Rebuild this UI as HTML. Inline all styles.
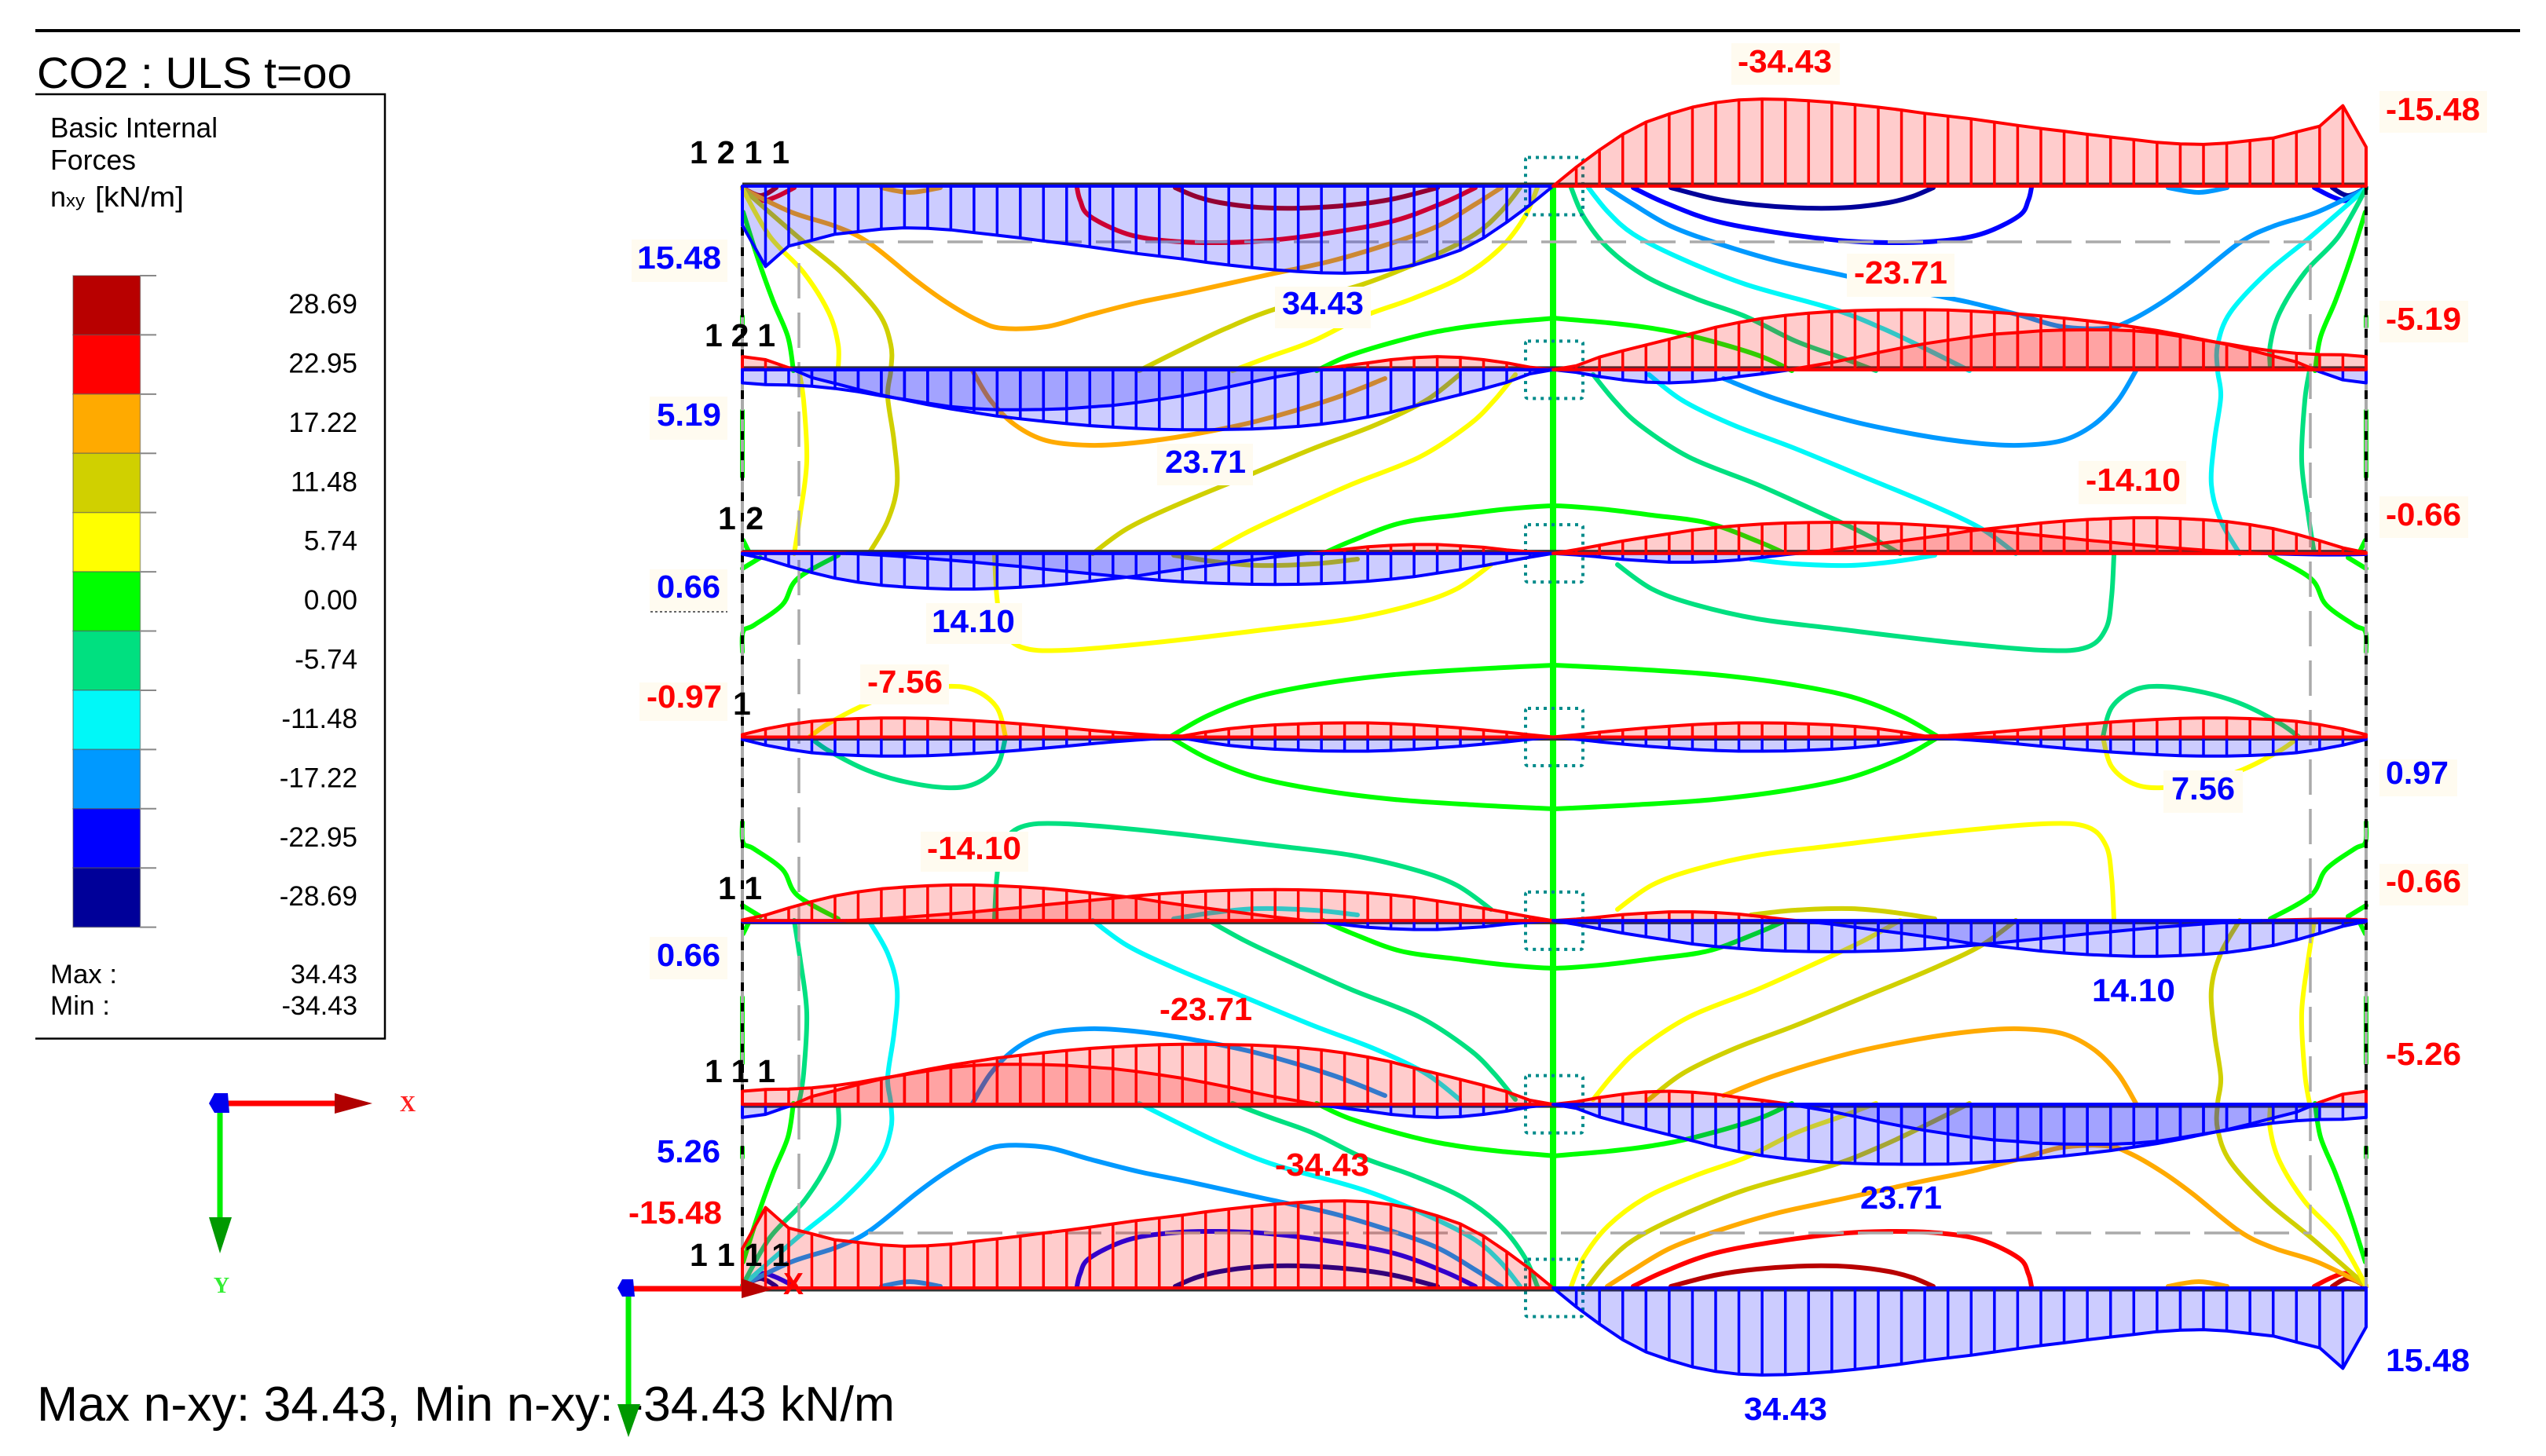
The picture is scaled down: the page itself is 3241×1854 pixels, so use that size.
<!DOCTYPE html>
<html lang="en">
<head>
<meta charset="utf-8">
<title>CO2 : ULS t=oo - Basic Internal Forces nxy</title>
<style>
html,body{margin:0;padding:0;background:#fff;}
svg{display:block;font-family:"Liberation Sans",sans-serif;}
.lb{font-weight:700;font-size:41px;}
.blue{fill:#0000ff;}
.red{fill:#ff0000;}
.tag{font-weight:700;font-size:41px;fill:#000;}
.box{fill:#fffbf0;}
</style>
</head>
<body>
<svg id="chart" xmlns="http://www.w3.org/2000/svg" width="3241" height="1854" viewBox="0 0 3241 1854">
<rect x="0" y="0" width="3241" height="1854" fill="#fff"/>
<rect x="45" y="37" width="3163" height="4" fill="#000"/>
<text x="47" y="112" font-size="56" textLength="401" lengthAdjust="spacingAndGlyphs">CO2 : ULS t=oo</text>

<g>
<path d="M45 120H490V1322.5H45" fill="none" stroke="#000" stroke-width="2.5"/>
<text x="64" y="175" font-size="36" textLength="213" lengthAdjust="spacingAndGlyphs">Basic Internal</text>
<text x="64" y="216" font-size="36" textLength="109" lengthAdjust="spacingAndGlyphs">Forces</text>
<text x="64" y="263" font-size="36">n</text>
<text x="84" y="263" font-size="22" textLength="24" lengthAdjust="spacingAndGlyphs">xy</text>
<text x="121" y="263" font-size="36" textLength="113" lengthAdjust="spacingAndGlyphs">[kN/m]</text>
<g id="legend-scale"></g>
<text x="64" y="1252" font-size="34" textLength="85" lengthAdjust="spacingAndGlyphs">Max :</text>
<text x="64" y="1292" font-size="34" textLength="76" lengthAdjust="spacingAndGlyphs">Min :</text>
<text x="455" y="1252" font-size="34" text-anchor="end">34.43</text>
<text x="455" y="1292" font-size="34" text-anchor="end">-34.43</text>
</g>

<g>
<path d="M280 1405H430" stroke="#ff0000" stroke-width="7"/>
<path d="M426 1392L474 1405L426 1418Z" fill="#b00000"/>
<path d="M280 1405V1552" stroke="#00ee00" stroke-width="7"/>
<path d="M266 1550H295L280 1596Z" fill="#009900"/>
<path d="M266 1405L273 1392H290L292 1417H273Z" fill="#0000ee"/>
<text x="519" y="1415" font-size="28" font-weight="700" text-anchor="middle" fill="#ff2020" style="font-family:'Liberation Serif',serif">X</text>
<text x="282" y="1646" font-size="28" font-weight="700" text-anchor="middle" fill="#33ee33" style="font-family:'Liberation Serif',serif">Y</text>
</g>

<g id="isolines"></g>
<path d="M1977 237V1640" stroke="#00ff00" stroke-width="8"/>
<rect x="1017" y="308" width="1924" height="1262" fill="none" stroke="#aaa" stroke-width="3.5" stroke-dasharray="45 18"/>
<g>
<path d="M945 237V1640" stroke="#aaa" stroke-width="4"/>
<path d="M945 237V1640" stroke="#000" stroke-width="4" stroke-dasharray="11 15"/>
<path d="M3012 237V1640" stroke="#aaa" stroke-width="4"/>
<path d="M3012 237V1640" stroke="#000" stroke-width="4" stroke-dasharray="11 15"/>
</g>
<g id="joints"></g>
<g id="beams"></g>

<g>
<rect class="box" x="804" y="305" width="122" height="54"/>
<text class="lb blue" x="811" y="342" textLength="107" lengthAdjust="spacingAndGlyphs">15.48</text>
<rect class="box" x="827" y="505" width="99" height="55"/>
<text class="lb blue" x="836" y="542" textLength="82" lengthAdjust="spacingAndGlyphs">5.19</text>
<rect class="box" x="827" y="725" width="99" height="53"/>
<text class="lb blue" x="836" y="761" textLength="81" lengthAdjust="spacingAndGlyphs">0.66</text>
<path d="M828 779H926" stroke="#333" stroke-width="1.5" stroke-dasharray="3 3"/>
<rect class="box" x="1623" y="365" width="122" height="53"/>
<text class="lb blue" x="1632" y="400" textLength="104" lengthAdjust="spacingAndGlyphs">34.43</text>
<rect class="box" x="1473" y="565" width="122" height="53"/>
<text class="lb blue" x="1483" y="602" textLength="103" lengthAdjust="spacingAndGlyphs">23.71</text>
<rect class="box" x="1179" y="768" width="122" height="52"/>
<text class="lb blue" x="1186" y="805" textLength="106" lengthAdjust="spacingAndGlyphs">14.10</text>
<rect class="box" x="2204" y="55" width="138" height="53"/>
<text class="lb red" x="2212" y="92" textLength="120" lengthAdjust="spacingAndGlyphs">-34.43</text>
<rect class="box" x="3029" y="116" width="137" height="53"/>
<text class="lb red" x="3037" y="153" textLength="120" lengthAdjust="spacingAndGlyphs">-15.48</text>
<rect class="box" x="2351" y="323" width="137" height="55"/>
<text class="lb red" x="2360" y="361" textLength="119" lengthAdjust="spacingAndGlyphs">-23.71</text>
<rect class="box" x="3029" y="383" width="113" height="53"/>
<text class="lb red" x="3037" y="420" textLength="96" lengthAdjust="spacingAndGlyphs">-5.19</text>
<rect class="box" x="2646" y="587" width="137" height="55"/>
<text class="lb red" x="2655" y="625" textLength="121" lengthAdjust="spacingAndGlyphs">-14.10</text>
<rect class="box" x="3029" y="632" width="113" height="53"/>
<text class="lb red" x="3037" y="669" textLength="96" lengthAdjust="spacingAndGlyphs">-0.66</text>
<rect class="box" x="814" y="869" width="112" height="49"/>
<text class="lb red" x="823" y="901" textLength="96" lengthAdjust="spacingAndGlyphs">-0.97</text>
<rect class="box" x="1095" y="846" width="113" height="51"/>
<text class="lb red" x="1104" y="882" textLength="96" lengthAdjust="spacingAndGlyphs">-7.56</text>
<rect class="box" x="1172" y="1059" width="137" height="51"/>
<text class="lb red" x="1180" y="1094" textLength="120" lengthAdjust="spacingAndGlyphs">-14.10</text>
<rect class="box" x="827" y="1193" width="99" height="54"/>
<text class="lb blue" x="836" y="1230" textLength="81" lengthAdjust="spacingAndGlyphs">0.66</text>
<text class="lb red" x="1476" y="1299" textLength="118" lengthAdjust="spacingAndGlyphs">-23.71</text>
<text class="lb blue" x="836" y="1480" textLength="81" lengthAdjust="spacingAndGlyphs">5.26</text>
<text class="lb red" x="1623" y="1497" textLength="120" lengthAdjust="spacingAndGlyphs">-34.43</text>
<text class="lb red" x="800" y="1558" textLength="119" lengthAdjust="spacingAndGlyphs">-15.48</text>
<rect class="box" x="3029" y="967" width="99" height="47"/>
<text class="lb blue" x="3037" y="998" textLength="80" lengthAdjust="spacingAndGlyphs">0.97</text>
<rect class="box" x="2754" y="981" width="101" height="54"/>
<text class="lb blue" x="2764" y="1018" textLength="81" lengthAdjust="spacingAndGlyphs">7.56</text>
<rect class="box" x="3029" y="1100" width="113" height="53"/>
<text class="lb red" x="3037" y="1136" textLength="96" lengthAdjust="spacingAndGlyphs">-0.66</text>
<text class="lb blue" x="2663" y="1275" textLength="106" lengthAdjust="spacingAndGlyphs">14.10</text>
<text class="lb red" x="3037" y="1356" textLength="96" lengthAdjust="spacingAndGlyphs">-5.26</text>
<text class="lb blue" x="2368" y="1539" textLength="104" lengthAdjust="spacingAndGlyphs">23.71</text>
<text class="lb blue" x="3037" y="1746" textLength="107" lengthAdjust="spacingAndGlyphs">15.48</text>
<text class="lb blue" x="2220" y="1808" textLength="106" lengthAdjust="spacingAndGlyphs">34.43</text>
</g>

<g>
<text class="tag" x="878" y="208" textLength="127" xml:space="preserve">1 2 1 1</text>
<text class="tag" x="897" y="441" textLength="90" xml:space="preserve">1 2 1</text>
<text class="tag" x="914" y="674" textLength="58" xml:space="preserve">1 2</text>
<text class="tag" x="933" y="910">1</text>
<text class="tag" x="914" y="1145" textLength="56" xml:space="preserve">1 1</text>
<text class="tag" x="897" y="1378" textLength="90" xml:space="preserve">1 1 1</text>
<text class="tag" x="878" y="1612" textLength="127" xml:space="preserve">1 1 1 1</text>
</g>

<g>
<path d="M800 1641H950" stroke="#ff0000" stroke-width="7"/>
<path d="M944 1628L983 1642L944 1653Z" fill="#b80000"/>
<text x="997" y="1648" font-size="39" font-weight="700" fill="#ff0000" textLength="26" lengthAdjust="spacingAndGlyphs">X</text>
<path d="M800 1640V1792" stroke="#00ee00" stroke-width="7"/>
<path d="M786 1640L792 1629H806L808 1651H792Z" fill="#0000ee"/>
</g>
<text x="47" y="1809" font-size="62" textLength="1092" lengthAdjust="spacingAndGlyphs">Max n-xy: 34.43, Min n-xy: -34.43 kN/m</text>
<path d="M786 1788H815L800 1830Z" fill="#009900"/>
</svg>

<script>
// ---- legend data ----
const legendValues = [28.69, 22.95, 17.22, 11.48, 5.74, 0, -5.74, -11.48, -17.22, -22.95, -28.69];
const legendColors = ['#b80000','#ff0000','#ffaa00','#d0d000','#ffff00','#00ff00','#00e080','#00f8f8','#0099ff','#0000ff','#000099'];
const legendPrinted = ['28.69','22.95','17.22','11.48','5.74','0.00','-5.74','-11.48','-17.22','-22.95','-28.69'];

// ---- n-xy along each beam half, kN/m, at the 36 hatch stations ----
const edgeDiagram = [0,-7.5,-14.3,-20.5,-25.3,-28.5,-31.2,-33,-34.1,-34.43,-34.3,-33.8,-33.1,-32.2,-31.2,-30.1,-28.8,-27.7,-26.6,-25.3,-24,-22.8,-21.7,-20.5,-19.4,-18.4,-17.3,-16.7,-16.5,-17,-18,-19,-21.4,-23.7,-31.8,-15.48];
const row2SeriesA = [0,-1.6,-5,-7.5,-9.8,-12.1,-14.4,-16.8,-18.7,-20.3,-21.5,-22.4,-23,-23.4,-23.6,-23.71,-23.71,-23.6,-23.2,-22.7,-22.1,-21.3,-20.4,-19.4,-18.3,-16.9,-15.5,-13.8,-11.9,-10,-7.8,-5.4,-3.1,0.8,4,5.19];
const row2SeriesB = [0,1,2.7,4,4.9,5.19,4.8,4,2.7,1.6,0.3,-1.3,-2.9,-4.8,-6.8,-8.6,-10.3,-11.7,-13,-14.1,-14.7,-15.4,-15.7,-15.8,-15.8,-15.4,-14.6,-13.2,-11.7,-10.3,-8.7,-7.4,-6.5,-6,-5.9,-5.19];
const row3SeriesA = [0,-1.5,-3.2,-4.9,-6.4,-7.8,-9.2,-10.2,-11,-11.6,-12,-12.2,-12.3,-12.2,-12,-11.7,-11.2,-10.6,-9.8,-8.9,-8,-7.1,-6.2,-5.2,-4.4,-3.5,-2.7,-2,-1.3,-0.7,-0.2,0.2,0.4,0.6,0.6,0.4];
const row3SeriesB = [0,0.6,1.4,2.4,3,3.5,3.5,3.2,2.6,1.6,0.5,-0.4,-1.4,-2.6,-3.8,-5,-6.2,-7.5,-9,-10,-11,-12,-12.8,-13.4,-13.8,-14.1,-14.1,-13.8,-13.3,-12.6,-11.4,-9.8,-7.6,-5,-2.2,-0.3];
const row4Envelope = [0,0.9,1.9,2.8,3.6,4.3,4.9,5.3,5.6,5.6,5.5,5.2,4.8,4.2,3.3,2,0.4,0.6,1.2,1.9,2.7,3.6,4.4,5.2,5.9,6.5,7,7.4,7.56,7.56,7.3,6.9,6.2,4.9,3.2,0.97];

// ---- which reading applies to which beam half (row index, side, mirrored, sign) ----
const diagramSpans = [
  {row:0,side:'L',values:edgeDiagram,mirror:true,sign:-1},
  {row:0,side:'R',values:edgeDiagram,mirror:false,sign:1},
  {row:1,side:'L',values:row2SeriesA,mirror:true,sign:-1},
  {row:1,side:'L',values:row2SeriesB,mirror:true,sign:-1},
  {row:1,side:'R',values:row2SeriesA,mirror:false,sign:1},
  {row:1,side:'R',values:row2SeriesB,mirror:false,sign:1},
  {row:2,side:'L',values:row3SeriesA,mirror:true,sign:-1},
  {row:2,side:'L',values:row3SeriesB,mirror:true,sign:-1},
  {row:2,side:'R',values:row3SeriesA,mirror:false,sign:1},
  {row:2,side:'R',values:row3SeriesB,mirror:false,sign:1},
  {row:3,side:'L',values:row4Envelope,mirror:true,sign:1},
  {row:3,side:'L',values:row4Envelope,mirror:true,sign:-1},
  {row:3,side:'R',values:row4Envelope,mirror:false,sign:1},
  {row:3,side:'R',values:row4Envelope,mirror:false,sign:-1},
  {row:4,side:'L',values:row3SeriesA,mirror:true,sign:1},
  {row:4,side:'L',values:row3SeriesB,mirror:true,sign:1},
  {row:4,side:'R',values:row3SeriesA,mirror:false,sign:-1},
  {row:4,side:'R',values:row3SeriesB,mirror:false,sign:-1},
  {row:5,side:'L',values:row2SeriesA,mirror:true,sign:1},
  {row:5,side:'L',values:row2SeriesB,mirror:true,sign:1},
  {row:5,side:'R',values:row2SeriesA,mirror:false,sign:-1},
  {row:5,side:'R',values:row2SeriesB,mirror:false,sign:-1},
  {row:6,side:'L',values:edgeDiagram,mirror:true,sign:1},
  {row:6,side:'R',values:edgeDiagram,mirror:false,sign:-1}
];

// ---- iso-lines of the upper right quadrant, wall coordinates in cm (x from left edge, y from top beam) ----
const navyArc = [[1182,2],[1237,16],[1292,24],[1356,28],[1411,27],[1459,21],[1490,13],[1516,2]];
const navyCorner = [[2024,2],[2044,12],[2067,2]];
const blueArc = [[1134,2],[1174,21],[1237,44],[1316,59],[1395,69],[1459,72],[1522,70],[1577,61],[1625,38],[1637,18],[1641,2]];
const blueCorner = [[2001,2],[2025,14],[2044,18],[2067,3]];
const skyMain = [[1101,2],[1134,23],[1182,51],[1245,74],[1316,95],[1403,114],[1498,135],[1562,148],[1625,164],[1680,179],[1736,181],[1767,171],[1807,148],[1846,120],[1906,72],[1949,51],[2005,33],[2067,3]];
const skyLower = [[1249,245],[1316,271],[1411,299],[1498,317],[1569,327],[1625,330],[1680,324],[1720,304],[1751,273],[1774,235]];
const skyTiny = [[1815,2],[1854,8],[1890,2]];
const cyanUpper = [[1077,2],[1102,33],[1134,61],[1190,90],[1277,125],[1387,156],[1451,181],[1506,207],[1562,235]];
const cyanMiddle = [[1154,240],[1197,273],[1261,304],[1340,334],[1427,370],[1514,406],[1577,436],[1621,468]];
const cyanEdge = [[2067,3],[1997,64],[1941,110],[1894,161],[1878,202],[1878,235],[1882,268],[1874,324],[1870,380],[1882,426],[1906,468]];
const cyanShallow = [[1284,475],[1340,481],[1411,483],[1467,478],[1518,470]];
const tealUpper = [[1055,2],[1071,39],[1102,79],[1150,115],[1213,143],[1277,166],[1340,197],[1395,217],[1443,235]];
const tealMiddle = [[1083,240],[1110,273],[1142,304],[1205,345],[1292,380],[1372,416],[1427,442],[1474,468]];
const tealLower = [[1114,482],[1158,513],[1213,533],[1292,551],[1387,563],[1530,580],[1656,591],[1712,587],[1736,563],[1743,523],[1746,470]];
const tealEdgeUpper = [[2067,3],[2032,64],[1989,110],[1957,161],[1945,202],[1945,232]];
const tealEdgeMiddle = [[1995,235],[1989,273],[1985,350],[1993,416],[2001,468]];
const tealLoop = [[1732,701],[1743,664],[1771,642],[1807,637],[1862,645],[1910,660],[1957,684],[1981,701]];
const greenUpper = [[1336,235],[1292,215],[1213,192],[1158,181],[1102,174],[1055,170],[1032,168]];
const greenMiddle = [[1328,468],[1292,452],[1229,429],[1158,419],[1102,412],[1055,408],[1032,407]];
const greenLens = [[1522,701],[1474,674],[1411,650],[1332,634],[1237,622],[1134,615],[1055,611],[1032,610]];
const greenEdge = [[2066,33],[2048,90],[2028,146],[2009,192],[2002,235]];
const greenEdgeBitA = [[2067,166],[2067,179]];
const greenEdgeBitB = [[2067,286],[2067,370]];
const greenLower = [[1945,470],[1997,500],[2016,533],[2052,559],[2066,567],[2067,593]];
const greenStubA = [[2044,473],[2067,487]];
const greenStubB = [[2058,467],[2066,451]];

const isolineSeries = [
  {level:-28.69,points:navyArc},{level:-28.69,points:navyCorner},
  {level:-22.95,points:blueArc},{level:-22.95,points:blueCorner},
  {level:-17.22,points:skyMain},{level:-17.22,points:skyLower},{level:-17.22,points:skyTiny},
  {level:-11.48,points:cyanUpper},{level:-11.48,points:cyanMiddle},{level:-11.48,points:cyanEdge},{level:-11.48,points:cyanShallow},
  {level:-5.74,points:tealUpper},{level:-5.74,points:tealMiddle},{level:-5.74,points:tealLower},{level:-5.74,points:tealEdgeUpper},{level:-5.74,points:tealEdgeMiddle},{level:-5.74,points:tealLoop},
  {level:0,points:greenUpper},{level:0,points:greenMiddle},{level:0,points:greenLens},{level:0,points:greenEdge},{level:0,points:greenEdgeBitA},{level:0,points:greenEdgeBitB},{level:0,points:greenLower},{level:0,points:greenStubA},{level:0,points:greenStubB}
];

// ---- axis functions ----
const NS = 'http://www.w3.org/2000/svg';
const WALL_W = 2067, WALL_H = 1403, ROW_PITCH = WALL_H / 6, MID = 1032, STATIONS = 35;
const wallX = v => 945 + v;
const wallY = v => 237 + v;
const rowY = r => wallY(r * ROW_PITCH);
const stationX = (side, k) => side === 'L' ? wallX(k * MID / STATIONS) : wallX(MID + k * (WALL_W - MID) / STATIONS);
const forceOffset = v => v * 3.22;
const legendY = i => 351 + i * 75.42;

function make(tag, attrs, parent) {
  const el = document.createElementNS(NS, tag);
  for (const key in attrs) el.setAttribute(key, attrs[key]);
  parent.appendChild(el);
  return el;
}
const colorOf = level => legendColors[legendValues.indexOf(level)];

// ---- legend ----
const legendGroup = document.getElementById('legend-scale');
legendColors.forEach((color, i) => {
  const swatch = make('rect', {x:93, y:legendY(i), width:85.5, height:75.42, fill:color, stroke:'#555', 'stroke-opacity':0.5, 'stroke-width':1.5}, legendGroup);
  
  
  const tick = make('path', {d:`M178 ${legendY(i)}H199`, stroke:'#888', 'stroke-width':2}, legendGroup);
  
  
  const label = make('text', {x:455, y:legendY(i) + 48, 'font-size':35, 'text-anchor':'end'}, legendGroup);
  
  
  label.textContent = legendPrinted[i];
});
const lastTick = make('path', {d:`M178 ${legendY(11)}H199`, stroke:'#888', 'stroke-width':2}, legendGroup);



// ---- iso-lines, repeated over the four antisymmetric quadrants ----
function smoothPath(points) {
  const p = points.map(q => [wallX(q[0]), wallY(q[1])]);
  let d = `M${p[0][0].toFixed(1)} ${p[0][1].toFixed(1)}`;
  for (let i = 0; i < p.length - 1; i++) {
    const a = p[Math.max(i - 1, 0)], b = p[i], c = p[i + 1], e = p[Math.min(i + 2, p.length - 1)];
    const c1x = b[0] + (c[0] - a[0]) / 6, c1y = b[1] + (c[1] - a[1]) / 6;
    const c2x = c[0] - (e[0] - b[0]) / 6, c2y = c[1] - (e[1] - b[1]) / 6;
    d += `C${c1x.toFixed(1)} ${c1y.toFixed(1)} ${c2x.toFixed(1)} ${c2y.toFixed(1)} ${c[0].toFixed(1)} ${c[1].toFixed(1)}`;
  }
  return d;
}
const isoGroup = document.getElementById('isolines');
const quadrants = [{fx:false,fy:false,s:1},{fx:true,fy:false,s:-1},{fx:false,fy:true,s:-1},{fx:true,fy:true,s:1}];
quadrants.forEach(q => {
  isolineSeries.forEach(series => {
    const pts = series.points.map(pt => [q.fx ? WALL_W - pt[0] : pt[0], q.fy ? WALL_H - pt[1] : pt[1]]);
    const level = series.level === 0 ? 0 : series.level * q.s;
    const line = make('path', {d:smoothPath(pts), fill:'none', stroke:colorOf(level), 'stroke-width':6, 'stroke-linecap':'round', 'stroke-linejoin':'round'}, isoGroup);
    
    
  });
});

// ---- joint markers and beams ----
const jointGroup = document.getElementById('joints');
const beamGroup = document.getElementById('beams');
for (let r = 0; r < 7; r++) {
  const joint = make('rect', {x:1942, y:rowY(r) - 36.5, width:73, height:73, rx:3, fill:'none', stroke:'#008b8b', 'stroke-width':4, 'stroke-dasharray':'4 6'}, jointGroup);
  
  
  const beam = make('path', {d:`M945 ${rowY(r) + (r < 3 ? -1.5 : 1.5)}H3012`, stroke:'#333', 'stroke-width':6}, beamGroup);
  
  
}

// ---- force diagrams: partSign +1 = positive (blue, below), -1 = negative (red, above) ----
function drawPart(span, partSign) {
  const raw = span.mirror ? span.values.slice().reverse() : span.values;
  const vals = raw.map(v => v * span.sign);
  const y0 = rowY(span.row);
  let d = '', open = false, lastX = 0;
  const stripes = [];
  for (let k = 0; k < vals.length; k++) {
    const x = stationX(span.side, k), v = vals[k];
    const inside = v * partSign > 0;
    if (inside) {
      if (!open) {
        let startX = x;
        if (k > 0) {
          const prev = vals[k - 1], px = stationX(span.side, k - 1);
          startX = px + (x - px) * (prev / (prev - v));
        }
        d += `M${startX.toFixed(1)} ${y0.toFixed(1)}`;
        open = true;
      }
      d += `L${x.toFixed(1)} ${(y0 + forceOffset(v)).toFixed(1)}`;
      lastX = x;
      if (Math.abs(v) > 0.2) stripes.push([x, y0 + forceOffset(v)]);
    } else if (open) {
      const prev = vals[k - 1], px = stationX(span.side, k - 1);
      const endX = px + (x - px) * (prev / (prev - v));
      d += `L${endX.toFixed(1)} ${y0.toFixed(1)}Z`;
      open = false;
    }
  }
  if (open) d += `L${lastX.toFixed(1)} ${y0.toFixed(1)}Z`;
  if (!d) return;
  const stroke = partSign > 0 ? '#0000ff' : '#ff0000';
  const area = make('path', {d:d, fill:stroke, 'fill-opacity':0.2, stroke:stroke, 'stroke-width':4, 'stroke-linejoin':'round'}, beamGroup);
  
  
  stripes.forEach(s => {
    const stripe = make('line', {x1:s[0], y1:y0, x2:s[0], y2:s[1], stroke:stroke, 'stroke-width':3.5}, beamGroup);
    
    
  });
}
diagramSpans.forEach(span => drawPart(span, span.sign > 0 ? 1 : -1));
diagramSpans.forEach(span => drawPart(span, span.sign > 0 ? -1 : 1));
</script>
</body>
</html>
